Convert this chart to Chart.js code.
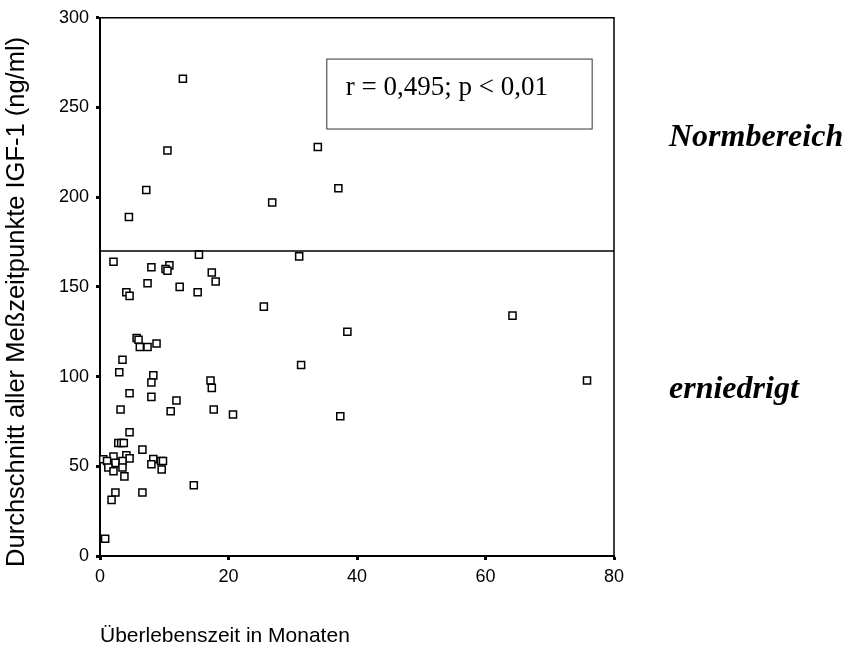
<!DOCTYPE html>
<html>
<head>
<meta charset="utf-8">
<script src="https://cdn.jsdelivr.net/npm/chart.js@4"></script>
<style>
  body { margin: 0; background: #fff; }
  canvas { display: block; }
</style>
</head>
<body>
<canvas id="igfChart" width="851" height="650"></canvas>
<script>
// survival time (months) and mean IGF-1 (ng/ml)
const months = [
  12.9, 10.5, 7.2, 4.5, 26.8, 33.9, 37.1,
  15.4, 31.0, 2.1, 8.0, 10.8, 10.2, 10.5, 17.4, 18.0, 7.4, 12.4, 15.2, 4.1, 4.6,
  25.5, 64.2, 38.5, 5.7, 6.0, 6.2, 7.4, 8.8, 3.5, 31.3, 3.0, 8.3, 17.2, 75.8,
  8.0, 17.4, 4.6, 8.0, 11.9, 3.2, 17.7, 11.0, 20.7, 37.4, 4.6, 2.85, 3.3, 3.7,
  6.6, 4.1, 2.1, 4.6, 8.3, 0.5, 1.1, 3.5, 9.5, 9.8, 2.4, 8.0, 1.3, 3.5, 9.6,
  2.1, 3.8, 14.6, 2.4, 6.6, 1.8, 0.8
];
const igf1 = [
  266, 226, 204, 189, 197, 228, 205,
  168, 167, 164, 161, 162, 160, 159, 158, 153, 152, 150, 147, 147, 145,
  139, 134, 125, 121.5, 120.5, 116.5, 116.5, 118.5, 109.4, 106.5, 102.4, 100.7, 97.8, 97.8,
  96.7, 93.7, 90.7, 88.7, 86.7, 81.7, 81.7, 80.7, 78.9, 77.9, 69, 63, 63, 63,
  59.3, 56.1, 55.4, 54.4, 54, 53.9, 53, 53, 53, 53, 51.9, 51.1, 49.3, 49.3, 48.2,
  47.2, 44.4, 39.4, 35.4, 35.4, 31.3, 9.6
];
const normLimit = 170;
const statText = 'r = 0,495; p < 0,01';
const yTitle = 'Durchschnitt aller Meßzeitpunkte IGF-1 (ng/ml)';

const points = months.map((m, i) => ({ x: m, y: igf1[i] }));

// frame, reference line, stats box, region labels and y title
const overlayPlugin = {
  id: 'overlay',
  afterDraw(chart) {
    const { ctx, chartArea: a, scales: { x, y } } = chart;
    ctx.save();
    ctx.strokeStyle = '#000';
    ctx.lineWidth = 1.5;
    ctx.beginPath();
    ctx.moveTo(a.left, a.top);
    ctx.lineTo(a.right, a.top);
    ctx.lineTo(a.right, a.bottom);
    const ly = y.getPixelForValue(normLimit);
    ctx.moveTo(a.left, ly);
    ctx.lineTo(a.right, ly);
    ctx.stroke();

    // stats box
    const bx1 = x.getPixelForValue(35.3), bx2 = x.getPixelForValue(76.6);
    const by1 = y.getPixelForValue(277), by2 = y.getPixelForValue(238);
    ctx.lineWidth = 1;
    ctx.strokeStyle = '#333';
    ctx.strokeRect(bx1, by1, bx2 - bx1, by2 - by1);
    ctx.fillStyle = '#000';
    ctx.font = '27px "Liberation Serif", "Times New Roman", serif';
    ctx.textBaseline = 'alphabetic';
    ctx.fillText(statText, bx1 + 19, by1 + 36);

    ctx.font = 'italic bold 32px "Liberation Serif", "Times New Roman", serif';
    ctx.fillText('Normbereich', a.right + 55, y.getPixelForValue(228.3));
    ctx.fillText('erniedrigt', a.right + 55, y.getPixelForValue(87.8));

    // y axis title, a bit lower than the axis centre like the original
    ctx.translate(17, (a.top + a.bottom) / 2 + 15);
    ctx.rotate(-Math.PI / 2);
    ctx.font = '25.5px "Liberation Sans", Arial, sans-serif';
    ctx.textAlign = 'center';
    ctx.textBaseline = 'middle';
    ctx.fillText(yTitle, 0, 0);
    ctx.restore();
  }
};

new Chart(document.getElementById('igfChart').getContext('2d'), {
  type: 'scatter',
  data: {
    datasets: [{
      data: points,
      pointStyle: 'rect',
      pointRadius: 5,
      pointHoverRadius: 5,
      borderColor: '#000',
      borderWidth: 1.5,
      backgroundColor: '#fff',
      clip: false
    }]
  },
  options: {
    responsive: false,
    devicePixelRatio: 1,
    animation: false,
    layout: { padding: { left: 0, top: 16, right: 237, bottom: 0 } },
    plugins: {
      legend: { display: false },
      tooltip: { enabled: false }
    },
    scales: {
      x: {
        type: 'linear',
        min: 0,
        max: 80,
        afterFit(scale) { scale.height = 94; },
        ticks: {
          stepSize: 20,
          color: '#000',
          padding: 6,
          font: { family: '"Liberation Sans", Arial, sans-serif', size: 18 }
        },
        grid: { drawOnChartArea: false, tickLength: 4, tickWidth: 3, tickColor: '#000' },
        border: { display: true, color: '#000', width: 2 },
        title: {
          display: true,
          text: 'Überlebenszeit in Monaten',
          align: 'start',
          color: '#000',
          padding: { top: 0, bottom: 1 },
          font: { family: '"Liberation Sans", Arial, sans-serif', size: 21 }
        }
      },
      y: {
        min: 0,
        max: 300,
        afterFit(scale) { scale.width = 100; },
        ticks: {
          stepSize: 50,
          color: '#000',
          padding: 7,
          font: { family: '"Liberation Sans", Arial, sans-serif', size: 18 }
        },
        grid: { drawOnChartArea: false, tickLength: 4, tickWidth: 3, tickColor: '#000' },
        border: { display: true, color: '#000', width: 2 },
        title: { display: false }
      }
    }
  },
  plugins: [overlayPlugin]
});
</script>
</body>
</html>
